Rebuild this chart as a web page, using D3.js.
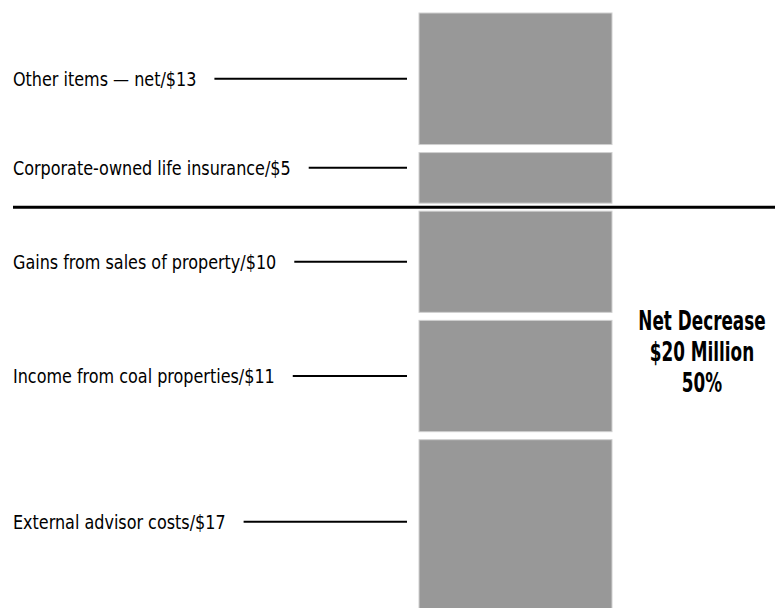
<!DOCTYPE html>
<html><head><meta charset="utf-8">
<script src="https://cdn.jsdelivr.net/npm/d3@7/dist/d3.min.js"></script>
<style>
html,body{margin:0;padding:0;background:#fff;}
svg{display:block;}
</style></head>
<body>
<svg id="chart" width="775" height="608"></svg>
<script>
// Data (top to bottom), $ millions
const categories = ["Other items \u2014 net", "Corporate-owned life insurance", "Gains from sales of property", "Income from coal properties", "External advisor costs"];
const values = [13, 5, 10, 11, 17];
const summaryLines = ["Net Decrease", "$20 Million", "50%"];

const svg = d3.select("#chart");
const W = 775, H = 608;
const font = "'DejaVu Sans Condensed','Liberation Sans Narrow','Liberation Sans',sans-serif";

const gap = 8;
const total = d3.sum(values);
const y = d3.scaleLinear().domain([0, total]).range([13, 13 + total * 10.12]);
const x = d3.scaleLinear().domain([0, 1]).range([419, 612]);

const cum = d3.cumsum(values);
const segs = values.map((v, i) => {
  const start = cum[i] - v;
  const y0 = y(start) + i * gap;
  const y1 = y(cum[i]) + i * gap;
  return {name: categories[i], value: v, y0, y1, i};
});

svg.append("g").selectAll("rect").data(segs).join("rect")
  .attr("x", x(0)).attr("width", x(1) - x(0))
  .attr("y", d => d.y0).attr("height", d => d.y1 - d.y0)
  .attr("fill", "#989898")
  .attr("stroke", "#d0d0d0").attr("stroke-width", 1);

// divider between 2nd and 3rd segment
const divY = (segs[1].y1 + segs[2].y0) / 2;
svg.append("line").attr("x1", 13).attr("x2", W).attr("y1", divY).attr("y2", divY)
  .attr("stroke", "#000").attr("stroke-width", 3);

// labels + leaders
const shift = [0, -10, 0, 0, -4];
const sx = 0.89;
const lg = svg.append("g");
segs.forEach(d => {
  const cy = (d.y0 + d.y1) / 2 + shift[d.i];
  const g = lg.append("g").attr("transform", `translate(13,${cy + 7}) scale(${sx},1)`);
  const t = g.append("text").attr("x", 0).attr("y", 0)
    .attr("font-family", font).attr("font-size", 20).attr("fill", "#000")
    .text(d.name + "/$" + d.value);
  const len = t.node().getComputedTextLength() * sx;
  lg.append("line").attr("x1", 13 + len + 18).attr("x2", 407)
    .attr("y1", cy).attr("y2", cy).attr("stroke", "#000").attr("stroke-width", 2);
});

// summary
svg.append("g").attr("transform", "translate(702,0) scale(0.72,1)")
  .selectAll("text").data(summaryLines).join("text")
  .attr("x", 0).attr("y", (d, i) => 330 + i * 31)
  .attr("text-anchor", "middle")
  .attr("font-family", font).attr("font-weight", "bold").attr("font-size", 26)
  .attr("fill", "#000").text(d => d);
</script>
</body></html>
